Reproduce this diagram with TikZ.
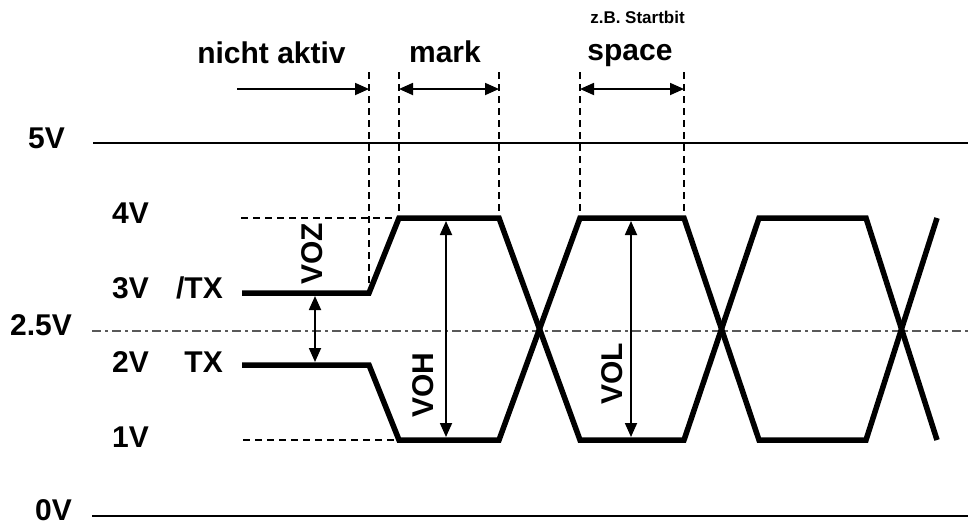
\documentclass[tikz,border=0pt]{standalone}
\usepackage{fontspec}
\setmainfont{Liberation Sans}
\usetikzlibrary{arrows.meta}
\tikzset{
  signal/.style={line width=5.5pt, line join=miter},
  level/.style={line width=1.3pt},
  guide/.style={line width=1.2pt, dash pattern=on 7pt off 5pt},
  centre/.style={line width=1.3pt, gray!70!black, dash pattern=on 9pt off 4pt on 3pt off 4pt},
  span/.style={line width=1.8pt},
  lbl/.style={font=\bfseries\fontsize{30}{32}\selectfont, inner sep=0pt},
}
\begin{document}
\begin{tikzpicture}[x=1pt, y=-1pt, >={Triangle[length=14pt,width=12pt]}]
\useasboundingbox (0,0) rectangle (968,525);
% Reference levels: 5V, 2.5V, 0V
\draw[level] (93,143) -- (968,143);
\draw[centre] (92,331) -- (968,331);
\draw[level] (92,516) -- (968,516);
\node[lbl, anchor=base east] (v5) at (65,148) {5V};
\node[lbl, anchor=base east] (v25) at (72,335) {2.5V};
\node[lbl, anchor=base east] (v0) at (72,520) {0V};
\foreach \y/\l in {223/4V, 298/3V, 372/2V, 447/1V}
  \node[lbl, anchor=base west] (v\l) at (112,\y) {\l};
\node[lbl, anchor=base east] (ntx) at (223,298) {/TX};
\node[lbl, anchor=base east] (tx) at (223,372) {TX};
% Guides: 4V and 1V, then the bit edges
\draw[guide] (241,218) -- (399,218);
\draw[guide] (243,440) -- (399,440);
\draw[guide] (369,72) -- (369,293);
\foreach \x in {399, 499, 580, 684} \draw[guide] (\x,72) -- (\x,218);
% The two lines: /TX above, TX below
\draw[signal] (242,293) -- (369,293) -- (399,218) -- (499,218) -- (580,440) -- (684,440) -- (759,218) -- (866,218) -- (937,440);
\draw[signal] (242,365) -- (369,365) -- (399,440) -- (499,440) -- (580,218) -- (684,218) -- (759,440) -- (866,440) -- (937,218);
% Spans over the top
\coordinate (idle) at (237,89);
\foreach \x/\n in {369/g0, 399/g1, 499/g2, 580/g3, 684/g4} \coordinate (\n) at (\x,89);
\draw[span,->] (idle) -- (g0);
\draw[span,<->] (g1) -- (g2);
\draw[span,<->] (g3) -- (g4);
\node[lbl, anchor=base] (idlelbl) at (271.5,63) {nicht aktiv};
\node[lbl, anchor=base] (marklbl) at (445,62) {mark};
\node[lbl, anchor=base] (spacelbl) at (630,60) {space};
\node[lbl, anchor=base, font=\bfseries\fontsize{17}{19}\selectfont] (startlbl) at (637.5,23) {z.B. Startbit};
% Voltage swings
\coordinate (ozt) at (315,296); \coordinate (ozb) at (315,362);
\coordinate (oht) at (446,221); \coordinate (ohb) at (446,437);
\coordinate (olt) at (631,221); \coordinate (olb) at (631,437);
\draw[span,<->] (ozt) -- (ozb);
\draw[span,<->] (oht) -- (ohb);
\draw[span,<->] (olt) -- (olb);
\node[lbl, rotate=90] (voz) at (312,254) {VOZ};
\node[lbl, rotate=90] (voh) at (423,385) {VOH};
\node[lbl, rotate=90] (vol) at (612,374) {VOL};
\end{tikzpicture}
\end{document}
